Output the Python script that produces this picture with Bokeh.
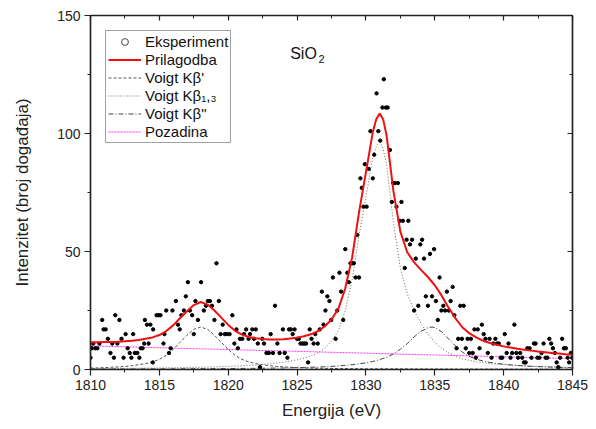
from bokeh.plotting import figure
from bokeh.models import (SingleIntervalTicker, LinearAxis, Range1d, Legend,
                          LegendItem, Label, CustomJSTickFormatter)
from bokeh.embed import file_html
from bokeh.resources import INLINE

# ---------------- data ----------------
exp_energy = [
    1810.00, 1810.10, 1810.20, 1810.35, 1810.50, 1810.65, 1810.85, 1810.95,
    1811.10, 1811.26, 1811.45, 1811.58, 1811.70, 1811.80, 1811.95,
    1812.10, 1812.25, 1812.40, 1812.55, 1812.70, 1812.85, 1812.97,
    1813.10, 1813.22, 1813.40, 1813.55, 1813.65, 1813.78, 1813.90, 1813.95,
    1814.10, 1814.22, 1814.35, 1814.52, 1814.55, 1814.80, 1814.95,
    1815.08, 1815.30, 1815.37, 1815.50, 1815.70, 1815.82, 1815.95,
    1816.20, 1816.35, 1816.48, 1816.60, 1816.78, 1816.92,
    1817.07, 1817.22, 1817.38, 1817.50, 1817.62, 1817.80,
    1818.03, 1818.23, 1818.38, 1818.52, 1818.67, 1818.82,
    1819.00, 1819.15, 1819.32, 1819.45, 1819.60, 1819.75, 1819.92,
    1820.10, 1820.30, 1820.45, 1820.60, 1820.70, 1820.85,
    1821.02, 1821.15, 1821.30, 1821.48, 1821.58, 1821.75, 1821.88,
    1822.00, 1822.15, 1822.30, 1822.47, 1822.60, 1822.78, 1822.95,
    1823.08, 1823.25, 1823.40, 1823.57, 1823.73, 1823.97,
    1824.10, 1824.30, 1824.42, 1824.55, 1824.68, 1824.82,
    1825.00, 1825.13, 1825.25, 1825.40, 1825.52, 1825.65, 1825.80, 1825.92,
    1826.05, 1826.20, 1826.32, 1826.50, 1826.65, 1826.80, 1826.92,
    1827.06, 1827.20, 1827.35, 1827.48, 1827.60, 1827.80, 1827.92,
    1828.08, 1828.20, 1828.35, 1828.50, 1828.65, 1828.76, 1828.88,
    1829.00, 1829.12, 1829.25, 1829.37, 1829.50, 1829.60, 1829.70, 1829.82, 1829.92,
    1830.05, 1830.20, 1830.33, 1830.50, 1830.60, 1830.77, 1830.90,
    1831.04, 1831.20, 1831.30, 1831.45, 1831.58, 1831.74, 1831.88, 1831.98,
    1832.10, 1832.22, 1832.32, 1832.45, 1832.58, 1832.68, 1832.82, 1832.95,
    1833.08, 1833.20, 1833.35, 1833.50, 1833.62, 1833.80, 1833.95,
    1834.08, 1834.22, 1834.35, 1834.50, 1834.65, 1834.80, 1834.95,
    1835.08, 1835.22, 1835.35, 1835.48, 1835.62, 1835.75, 1835.88,
    1836.02, 1836.15, 1836.30, 1836.42, 1836.58, 1836.70, 1836.85, 1836.97,
    1837.10, 1837.25, 1837.38, 1837.50, 1837.62, 1837.75, 1837.88, 1837.98,
    1838.12, 1838.25, 1838.42, 1838.55, 1838.68, 1838.85, 1838.98,
    1839.12, 1839.25, 1839.40, 1839.52, 1839.65, 1839.78, 1839.90,
    1840.08, 1840.22, 1840.35, 1840.50, 1840.62, 1840.78, 1840.92,
    1841.05, 1841.20, 1841.35, 1841.48, 1841.60, 1841.72, 1841.88,
    1842.02, 1842.20, 1842.32, 1842.45, 1842.60, 1842.75, 1842.90,
    1843.05, 1843.18, 1843.32, 1843.45, 1843.58, 1843.72, 1843.85, 1843.97,
    1844.10, 1844.25, 1844.38, 1844.52, 1844.65, 1844.75, 1844.88, 1844.98,
]
exp_counts = [
    5, 9, 11, 9, 9, 11, 21, 17,
    17, 13, 7, 11, 5, 23, 11,
    21, 13, 5, 15, 9, 7, 5,
    15, 7, 7, 5, 9, 9, 11, 21,
    19, 11, 19, 3, 17, 23, 23,
    23, 11, 15, 25, 7, 9, 25,
    29, 19, 17, 23, 25, 31,
    37, 25, 23, 15, 29, 21,
    37, 25, 27, 29, 29, 27,
    21, 45, 29, 15, 19, 15, 15,
    15, 23, 11, 17, 9, 13,
    13, 15, 17, 13, 15, 17, 13,
    17, 11, 1, 13, 11, 7, 7,
    15, 7, 27, 11, 7, 17,
    7, 5, 17, 17, 15, 17,
    13, 13, 11, 11, 11, 11, 3, 17,
    13, 11, 15, 11, 17, 33, 19,
    25, 31, 29, 21, 39, 13, 25,
    41, 33, 21, 51, 41, 37, 45,
    45, 45, 39, 57, 39, 81, 77, 69, 87,
    69, 85, 101, 81, 91, 117, 101,
    97, 111, 123, 111, 111, 93, 71, 79,
    79, 69, 79, 63, 71, 63, 43, 55,
    63, 53, 55, 25, 47, 27, 53,
    55, 47, 31, 27, 49, 31, 51,
    29, 21, 39, 25, 27, 25, 33,
    25, 29, 35, 23, 9, 13, 27, 13,
    27, 9, 13, 7, 13, 7, 17, 5,
    17, 9, 19, 15, 13, 7, 13,
    5, 11, 13, 11, 11, 5, 5,
    15, 7, 11, 5, 7, 19, 7,
    5, 7, 5, 3, 3, 9, 9,
    5, 11, 11, 5, 5, 7, 11,
    5, 5, 13, 11, 9, 7, 3, 1,
    5, 13, 9, 9, 5, 3, 7, 5,
]

fit_energy = [
    1810, 1810.5, 1811, 1811.5, 1812, 1812.5, 1813, 1813.5, 1814, 1814.5,
    1815, 1815.5, 1816, 1816.5, 1817, 1817.5, 1818, 1818.5, 1819, 1819.5,
    1820, 1820.5, 1821, 1821.5, 1822, 1822.5, 1823, 1823.5, 1824, 1824.5,
    1825, 1825.5, 1826, 1826.5, 1827, 1827.5, 1828, 1828.5, 1829, 1829.5,
    1830, 1830.5, 1830.75, 1831, 1831.25, 1831.5, 1832, 1832.5, 1833, 1833.5,
    1834, 1834.5, 1835, 1835.5, 1836, 1836.5, 1837, 1837.5, 1838, 1838.5,
    1839, 1839.5, 1840, 1840.5, 1841, 1841.5, 1842, 1842.5, 1843, 1843.5,
    1844, 1844.5, 1845,
]
fit_counts = [
    11.4, 11.5, 11.6, 11.7, 11.8, 12.0, 12.2, 12.5, 13.0, 13.6,
    14.6, 16.3, 18.7, 21.7, 24.7, 27.3, 28.6, 27.5, 25.0, 22.0,
    18.9, 16.4, 14.8, 13.8, 13.2, 12.9, 12.7, 12.7, 12.8, 13.1,
    13.5, 14.1, 14.9, 16.2, 18.2, 21.2, 25.8, 34.4, 47.5, 66.7,
    83.5, 100.6, 106.0, 108.5, 106.0, 99.2, 75.5, 58.4, 49.7, 45.4,
    42.2, 39.2, 35.7, 31.3, 26.2, 21.7, 17.9, 15.4, 13.6, 12.2,
    11.2, 10.5, 9.8, 9.3, 8.8, 8.4, 8.0, 7.6, 7.3, 7.0,
    6.8, 6.5, 6.3,
]

kb_prime_energy = [
    1810, 1810.5, 1811, 1811.5, 1812, 1812.5, 1813, 1813.5, 1814, 1814.5,
    1815, 1815.5, 1816, 1816.5, 1817, 1817.5, 1818, 1818.5, 1819, 1819.5,
    1820, 1820.5, 1821, 1821.5, 1822, 1822.5, 1823, 1823.5, 1824, 1824.5,
    1825, 1825.5, 1826, 1827, 1828, 1830, 1833, 1836, 1840, 1845,
]
kb_prime_counts = [
    0.6, 0.7, 0.8, 0.95, 1.1, 1.3, 1.6, 2.0, 2.5, 3.2,
    4.3, 6.0, 8.5, 11.5, 14.5, 17.0, 18.0, 17.0, 14.5, 11.5,
    8.5, 6.0, 4.3, 3.2, 2.5, 2.0, 1.6, 1.3, 1.1, 0.95,
    0.8, 0.7, 0.6, 0.5, 0.4, 0.3, 0.25, 0.2, 0.15, 0.12,
]

kb13_energy = [
    1810, 1812, 1814, 1816, 1818, 1819, 1820, 1821, 1822, 1823,
    1824, 1825, 1825.5, 1826, 1826.5, 1827, 1827.5, 1828, 1828.5, 1829,
    1829.5, 1830, 1830.5, 1830.75, 1831, 1831.25, 1831.5, 1832, 1832.5, 1833,
    1833.5, 1834, 1834.5, 1835, 1835.5, 1836, 1836.5, 1837, 1838, 1839,
    1840, 1841, 1842, 1843, 1844, 1845,
]
kb13_counts = [
    0.4, 0.5, 0.6, 0.75, 0.95, 1.1, 1.3, 1.6, 1.9, 2.4,
    3.1, 4.1, 4.8, 5.7, 7.0, 9.0, 12.0, 16.5, 25.0, 38.0,
    57.0, 73.0, 90.0, 94.5, 97.0, 93.5, 87.0, 62.0, 43.0, 32.0,
    25.0, 19.5, 15.0, 11.5, 9.0, 7.0, 5.6, 4.5, 3.3, 2.5,
    2.0, 1.7, 1.4, 1.2, 1.0, 0.9,
]

kb_dprime_energy = [
    1810, 1815, 1820, 1822, 1824, 1826, 1827, 1828, 1829, 1830,
    1830.5, 1831, 1831.5, 1832, 1832.5, 1833, 1833.5, 1834, 1834.5, 1834.8,
    1835, 1835.5, 1836, 1836.5, 1837, 1837.5, 1838, 1838.5, 1839, 1840,
    1841, 1842, 1843, 1844, 1845,
]
kb_dprime_counts = [
    0.17, 0.25, 0.4, 0.5, 0.65, 0.95, 1.15, 1.5, 2.0, 2.8,
    3.4, 4.2, 5.2, 6.6, 8.6, 11.0, 13.8, 16.2, 17.7, 18.0,
    17.8, 16.0, 13.0, 10.0, 7.4, 5.6, 4.4, 3.6, 3.0, 2.2,
    1.7, 1.35, 1.1, 0.9, 0.75,
]

background_energy = [1810, 1845]
background_counts = [10.0, 4.6]

x_range = (1810, 1845)
y_range = (0, 150)

legend_labels = ["Eksperiment", "Prilagodba", "Voigt K\u03b2'",
                 "Voigt K\u03b2\u2081,\u2083", 'Voigt K\u03b2"', "Pozadina"]

# ---------------- figure ----------------
FONT = "Liberation Sans"

p = figure(width=596, height=429, output_backend="svg", toolbar_location=None,
           x_range=Range1d(*x_range), y_range=Range1d(*y_range),
           x_axis_location=None, y_axis_location=None,
           min_border_left=90, min_border_right=24,
           min_border_top=15, min_border_bottom=60)
p.xgrid.visible = False
p.ygrid.visible = False
p.outline_line_color = "#222222"
p.outline_line_width = 1.2
p.background_fill_color = "white"
p.border_fill_color = "white"

blank = CustomJSTickFormatter(code="return ''")

def style_axis(ax, outward, labels=True):
    ax.axis_line_color = "#222222"
    ax.axis_line_width = 1.5
    ax.major_tick_line_color = "#222222"
    ax.minor_tick_line_color = "#222222"
    ax.major_tick_line_width = 1.2
    ax.minor_tick_line_width = 1.0
    if outward:
        ax.major_tick_out = 6
        ax.major_tick_in = 0
        ax.minor_tick_out = 3
        ax.minor_tick_in = 0
    else:
        ax.major_tick_out = 0
        ax.major_tick_in = 5
        ax.minor_tick_out = 0
        ax.minor_tick_in = 3
    ax.major_label_text_font = FONT
    ax.major_label_text_font_size = "14px"
    ax.major_label_text_color = "#222222"
    ax.axis_label_text_font = FONT
    ax.axis_label_text_font_size = "17px"
    ax.axis_label_text_font_style = "normal"
    ax.axis_label_text_color = "#222222"
    if not labels:
        ax.formatter = blank

xb = LinearAxis(ticker=SingleIntervalTicker(interval=5, num_minor_ticks=2),
                axis_label="Energija (eV)")
style_axis(xb, True)
xb.major_label_standoff = 4
xb.axis_label_standoff = 8
p.add_layout(xb, "below")

yl = LinearAxis(ticker=SingleIntervalTicker(interval=50, num_minor_ticks=2),
                axis_label="Intenzitet (broj doga\u0111aja)")
style_axis(yl, True)
yl.major_label_standoff = 4
yl.axis_label_standoff = 22
p.add_layout(yl, "left")

xt = LinearAxis(ticker=SingleIntervalTicker(interval=5, num_minor_ticks=2))
style_axis(xt, False, labels=False)
xt.major_label_text_font_size = "0px"
p.add_layout(xt, "above")

yr = LinearAxis(ticker=SingleIntervalTicker(interval=50, num_minor_ticks=2))
style_axis(yr, False, labels=False)
yr.major_label_text_font_size = "0px"
p.add_layout(yr, "right")

# ---------------- glyphs ----------------
r_bg = p.line(background_energy, background_counts, line_color="#ff33ff",
              line_width=1, line_dash="2 1")
r_kp = p.line(kb_prime_energy, kb_prime_counts, line_color="#555555",
              line_width=1, line_dash="3 2")
r_k13 = p.line(kb13_energy, kb13_counts, line_color="#666666",
               line_width=1, line_dash="1 2")
r_kdp = p.line(kb_dprime_energy, kb_dprime_counts, line_color="#444444",
               line_width=1, line_dash="5 2 1 2")
r_exp = p.scatter(exp_energy, exp_counts, marker="circle", size=3.4,
                  fill_color="black", line_color="black")
r_fit = p.line(fit_energy, fit_counts, line_color="#ee1111", line_width=2)
# legend-only key (open circle, as in the reference legend); not drawn in plot
nan = float("nan")
r_exp_key = p.scatter(x=[nan], y=[nan], marker="circle", size=4.5,
                      fill_color=None, line_color="#333333", line_width=0.9)

legend = Legend(items=[
    LegendItem(label=legend_labels[0], renderers=[r_exp_key]),
    LegendItem(label=legend_labels[1], renderers=[r_fit]),
    LegendItem(label=legend_labels[2], renderers=[r_kp]),
    LegendItem(label=legend_labels[3], renderers=[r_k13]),
    LegendItem(label=legend_labels[4], renderers=[r_kdp]),
    LegendItem(label=legend_labels[5], renderers=[r_bg]),
], location="top_left")
legend.margin = 15
legend.padding = 2
legend.spacing = 1
legend.glyph_width = 33
legend.glyph_height = 17
legend.label_height = 17
legend.label_standoff = 4
legend.label_text_font = FONT
legend.label_text_font_size = "15px"
legend.label_text_color = "#111111"
legend.border_line_color = "#444444"
legend.border_line_width = 1
legend.background_fill_alpha = 1.0
p.add_layout(legend, "center")

title_main = Label(x=1824.5, y=134.0, text="SiO", text_font=FONT,
                   text_font_size="16px", text_color="#111111",
                   text_baseline="alphabetic", text_align="left")
title_sub = Label(x=1826.55, y=131.5, text="2", text_font=FONT,
                  text_font_size="11px", text_color="#111111",
                  text_baseline="alphabetic", text_align="left")
p.add_layout(title_main)
p.add_layout(title_sub)

open("out.html", "w").write(file_html(p, INLINE))
